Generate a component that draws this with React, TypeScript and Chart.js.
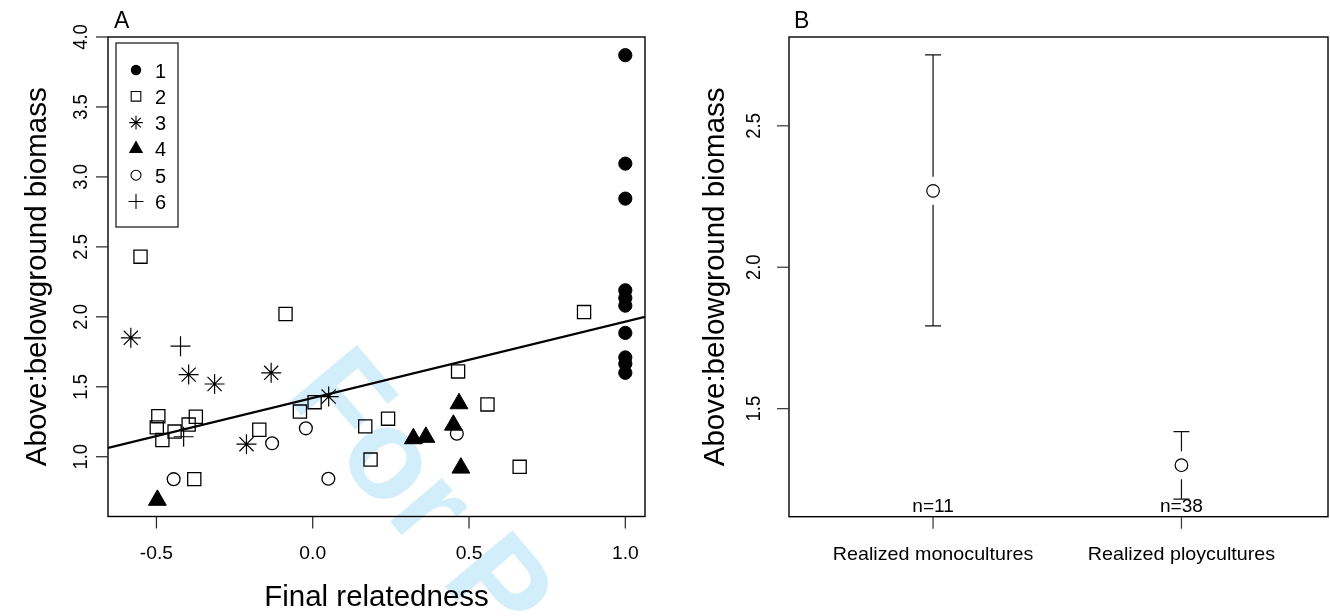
import React, { useEffect, useRef } from 'react';
import { Chart, registerables } from 'chart.js';

Chart.register(...registerables);

// ---------- Panel A data ----------
const xG1 = [1.0, 1.0, 1.0, 1.0, 1.0, 1.0, 1.0, 1.0, 1.0, 1.0];
const yG1 = [3.87, 3.095, 2.845, 2.19, 2.135, 2.08, 1.885, 1.71, 1.665, 1.6];
const xG2 = [-0.551, -0.087, -0.494, -0.499, -0.481, -0.442, -0.397, -0.374, -0.171, -0.041, 0.006, 0.168, 0.185, -0.379, 0.241, 0.465, 0.559, 0.662, 0.868];
const yG2 = [2.43, 2.02, 1.29, 1.21, 1.12, 1.18, 1.23, 1.286, 1.193, 1.323, 1.39, 1.217, 0.98, 0.84, 1.272, 1.61, 1.374, 0.928, 2.034];
const xG3 = [-0.582, -0.397, -0.314, -0.133, 0.051, -0.212];
const yG3 = [1.85, 1.587, 1.52, 1.6, 1.43, 1.09];
const xG4 = [-0.497, 0.468, 0.45, 0.322, 0.362, 0.474];
const yG4 = [0.69, 1.38, 1.227, 1.13, 1.14, 0.92];
const xG5 = [-0.445, -0.13, -0.022, 0.05, 0.461];
const yG5 = [0.84, 1.096, 1.203, 0.843, 1.165];
const xG6 = [-0.423, -0.413];
const yG6 = [1.79, 1.143];
const legendLabels = ['1', '2', '3', '4', '5', '6'];
const fitIntercept = 1.42;
const fitSlope = 0.545;
const xRangeA = [-0.655, 1.063];
const yRangeA = [0.573, 4.0];
const xTicksA = [-0.5, 0.0, 0.5, 1.0];
const yTicksA = [1.0, 1.5, 2.0, 2.5, 3.0, 3.5, 4.0];

// ---------- Panel B data ----------
const groupsB = ['Realized monocultures', 'Realized ploycultures'];
const groupPosB = [1, 2];
const meanB = [2.27, 1.3];
const upperB = [2.751, 1.419];
const lowerB = [1.793, 1.18];
const nLabelsB = ['n=11', 'n=38'];
const xRangeB = [0.42, 2.59];
const yRangeB = [1.118, 2.814];
const yTicksB = [1.5, 2.0, 2.5];

const H = 616;
const WA = 665;
const WB = 665;
const FONT = '"Liberation Sans", Arial, sans-serif';

type Kind = 'dot' | 'square' | 'star' | 'tri' | 'ring' | 'plus';

function drawMarker(ctx: CanvasRenderingContext2D, kind: Kind, x: number, y: number, r: number) {
  ctx.beginPath();
  if (kind === 'dot') {
    ctx.arc(x, y, r, 0, Math.PI * 2);
    ctx.fill();
  } else if (kind === 'ring') {
    ctx.arc(x, y, r, 0, Math.PI * 2);
    ctx.stroke();
  } else if (kind === 'square') {
    ctx.rect(x - r, y - r, 2 * r, 2 * r);
    ctx.stroke();
  } else if (kind === 'tri') {
    ctx.moveTo(x, y - r);
    ctx.lineTo(x + r * 0.866, y + r / 2);
    ctx.lineTo(x - r * 0.866, y + r / 2);
    ctx.closePath();
    ctx.fill();
  } else if (kind === 'star') {
    for (let k = 0; k < 4; k++) {
      const a = (k * Math.PI) / 4;
      ctx.moveTo(x - Math.cos(a) * r, y - Math.sin(a) * r);
      ctx.lineTo(x + Math.cos(a) * r, y + Math.sin(a) * r);
    }
    ctx.stroke();
  } else if (kind === 'plus') {
    ctx.moveTo(x - r, y);
    ctx.lineTo(x + r, y);
    ctx.moveTo(x, y - r);
    ctx.lineTo(x, y + r);
    ctx.stroke();
  }
}

// horizontal text, stretched horizontally by sx
function hText(ctx: CanvasRenderingContext2D, text: string, x: number, y: number, sx: number) {
  ctx.save();
  ctx.translate(x, y);
  ctx.scale(sx, 1);
  ctx.fillText(text, 0, 0);
  ctx.restore();
}

// vertical text reading bottom to top, glyph height stretched by sh
function vText(ctx: CanvasRenderingContext2D, text: string, x: number, y: number, sh: number) {
  ctx.save();
  ctx.translate(x, y);
  ctx.rotate(-Math.PI / 2);
  ctx.scale(1, sh);
  ctx.fillText(text, 0, 0);
  ctx.restore();
}

function pts(xs: number[], ys: number[]) {
  return xs.map((x, i) => ({ x, y: ys[i] }));
}

const panelAPlugin = {
  id: 'panelA',
  beforeDraw(chart: any) {
    const ctx = chart.ctx as CanvasRenderingContext2D;
    ctx.save();
    ctx.fillStyle = '#d3eefb';
    ctx.font = `bold 128px ${FONT}`;
    ctx.translate(284, 395);
    ctx.rotate((50 * Math.PI) / 180);
    ctx.textAlign = 'left';
    ctx.textBaseline = 'alphabetic';
    ctx.fillText('For Peer Review', 0, 0);
    ctx.restore();
  },
  afterDraw(chart: any) {
    const ctx = chart.ctx as CanvasRenderingContext2D;
    const a = chart.chartArea;
    const xs = chart.scales.x;
    const ys = chart.scales.y;
    ctx.save();
    ctx.strokeStyle = '#000';
    ctx.lineWidth = 1.4;
    ctx.strokeRect(a.left, a.top, a.right - a.left, a.bottom - a.top);
    ctx.lineWidth = 1.2;
    ctx.strokeStyle = '#222';
    ctx.fillStyle = '#000';
    ctx.textAlign = 'center';
    ctx.textBaseline = 'alphabetic';
    ctx.font = `18px ${FONT}`;
    xTicksA.forEach((v) => {
      const px = xs.getPixelForValue(v);
      ctx.beginPath();
      ctx.moveTo(px, a.bottom);
      ctx.lineTo(px, a.bottom + 12);
      ctx.stroke();
      hText(ctx, v.toFixed(1), px, 559, 1.07);
    });
    ctx.font = `18.5px ${FONT}`;
    yTicksA.forEach((v) => {
      const py = ys.getPixelForValue(v);
      ctx.beginPath();
      ctx.moveTo(a.left, py);
      ctx.lineTo(a.left - 12, py);
      ctx.stroke();
      vText(ctx, v.toFixed(1), 87, py, 1.13);
    });
    // axis titles
    ctx.font = `29.5px ${FONT}`;
    ctx.fillText('Final relatedness', (a.left + a.right) / 2, 606);
    vText(ctx, 'Above:belowground biomass', 46, (a.top + a.bottom) / 2, 1);
    // panel letter
    ctx.font = `23px ${FONT}`;
    ctx.textAlign = 'left';
    ctx.fillText('A', 114, 28);
    // legend
    ctx.lineWidth = 1.3;
    ctx.strokeStyle = '#222';
    ctx.strokeRect(116, 43, 62, 184);
    const kinds: Kind[] = ['dot', 'square', 'star', 'tri', 'ring', 'plus'];
    const sizes = [5.2, 4.8, 6.8, 8.3, 5.0, 7.5];
    ctx.font = `20px ${FONT}`;
    legendLabels.forEach((lab, i) => {
      const cy = 70 + i * 26.3;
      ctx.fillStyle = '#000';
      ctx.strokeStyle = '#000';
      ctx.lineWidth = 1.1;
      drawMarker(ctx, kinds[i], 136, cy, sizes[i]);
      ctx.fillText(lab, 155, cy + 7.5);
    });
    ctx.restore();
  },
};

const panelBPlugin = {
  id: 'panelB',
  afterDatasetsDraw(chart: any) {
    const ctx = chart.ctx as CanvasRenderingContext2D;
    const xs = chart.scales.x;
    const ys = chart.scales.y;
    ctx.save();
    ctx.strokeStyle = '#111';
    ctx.lineWidth = 1.2;
    const gap = 14;
    const cap = 8;
    groupPosB.forEach((g, i) => {
      const px = xs.getPixelForValue(g);
      const pm = ys.getPixelForValue(meanB[i]);
      const pu = ys.getPixelForValue(upperB[i]);
      const pl = ys.getPixelForValue(lowerB[i]);
      ctx.beginPath();
      if (pm - gap > pu) {
        ctx.moveTo(px, pu);
        ctx.lineTo(px, pm - gap);
      }
      if (pl > pm + gap) {
        ctx.moveTo(px, pm + gap);
        ctx.lineTo(px, pl);
      }
      ctx.moveTo(px - cap, pu);
      ctx.lineTo(px + cap, pu);
      ctx.moveTo(px - cap, pl);
      ctx.lineTo(px + cap, pl);
      ctx.stroke();
    });
    ctx.restore();
  },
  afterDraw(chart: any) {
    const ctx = chart.ctx as CanvasRenderingContext2D;
    const a = chart.chartArea;
    const xs = chart.scales.x;
    const ys = chart.scales.y;
    ctx.save();
    ctx.strokeStyle = '#000';
    ctx.lineWidth = 1.4;
    ctx.strokeRect(a.left, a.top, a.right - a.left, a.bottom - a.top);
    ctx.fillStyle = '#000';
    ctx.textAlign = 'center';
    ctx.textBaseline = 'alphabetic';
    ctx.strokeStyle = '#333';
    ctx.lineWidth = 1.2;
    groupPosB.forEach((g, i) => {
      const px = xs.getPixelForValue(g);
      ctx.beginPath();
      ctx.moveTo(px, a.bottom);
      ctx.lineTo(px, a.bottom + 12);
      ctx.stroke();
      ctx.font = `18px ${FONT}`;
      hText(ctx, nLabelsB[i], px, 512, 1.06);
      ctx.font = `18.6px ${FONT}`;
      hText(ctx, groupsB[i], px, 560, 1.06);
    });
    ctx.font = `18.5px ${FONT}`;
    yTicksB.forEach((v) => {
      const py = ys.getPixelForValue(v);
      ctx.beginPath();
      ctx.moveTo(a.left, py);
      ctx.lineTo(a.left - 12, py);
      ctx.stroke();
      vText(ctx, v.toFixed(1), 760 - 665, py, 1.13);
    });
    ctx.font = `29.5px ${FONT}`;
    vText(ctx, 'Above:belowground biomass', 724 - 665, (a.top + a.bottom) / 2, 1);
    ctx.font = `23px ${FONT}`;
    ctx.textAlign = 'left';
    ctx.fillText('B', 794 - 665, 28);
    ctx.restore();
  },
};

function PanelA() {
  const ref = useRef<HTMLCanvasElement | null>(null);
  useEffect(() => {
    if (!ref.current) return;
    const f = (x: number) => fitIntercept + fitSlope * x;
    const base = { showLine: false, borderColor: '#000', borderWidth: 1.3 };
    const chart = new Chart(ref.current, {
      type: 'scatter',
      data: {
        datasets: [
          {
            type: 'line',
            label: 'fit',
            data: [
              { x: xRangeA[0], y: f(xRangeA[0]) },
              { x: xRangeA[1], y: f(xRangeA[1]) },
            ],
            borderColor: '#000',
            borderWidth: 2.2,
            pointRadius: 0,
            fill: false,
          } as any,
          { ...base, label: '1', data: pts(xG1, yG1), pointStyle: 'circle', pointRadius: 6.6, backgroundColor: '#000', borderWidth: 1 },
          { ...base, label: '2', data: pts(xG2, yG2), pointStyle: 'rect', pointRadius: 9.3, backgroundColor: 'rgba(0,0,0,0)' },
          { ...base, label: '3', data: pts(xG3, yG3), pointStyle: 'star', pointRadius: 10, backgroundColor: 'rgba(0,0,0,0)', borderWidth: 1.2 },
          { ...base, label: '4', data: pts(xG4, yG4), pointStyle: 'triangle', pointRadius: 10.3, backgroundColor: '#000', borderWidth: 1 },
          { ...base, label: '5', data: pts(xG5, yG5), pointStyle: 'circle', pointRadius: 6.4, backgroundColor: 'rgba(0,0,0,0)' },
          { ...base, label: '6', data: pts(xG6, yG6), pointStyle: 'cross', pointRadius: 10, backgroundColor: 'rgba(0,0,0,0)', borderWidth: 1.2 },
        ],
      },
      options: {
        animation: false,
        responsive: false,
        events: [],
        layout: { autoPadding: false, padding: { left: 108, right: WA - 645, top: 37, bottom: H - 516.5 } },
        plugins: { legend: { display: false }, tooltip: { enabled: false } },
        scales: {
          x: { type: 'linear', display: false, min: xRangeA[0], max: xRangeA[1] },
          y: { type: 'linear', display: false, min: yRangeA[0], max: yRangeA[1] },
        },
      },
      plugins: [panelAPlugin],
    });
    return () => chart.destroy();
  }, []);
  return <canvas ref={ref} width={WA} height={H} style={{ position: 'absolute', left: 0, top: 0, width: WA, height: H }} />;
}

function PanelB() {
  const ref = useRef<HTMLCanvasElement | null>(null);
  useEffect(() => {
    if (!ref.current) return;
    const chart = new Chart(ref.current, {
      type: 'scatter',
      data: {
        datasets: [
          {
            label: 'mean',
            data: groupPosB.map((g, i) => ({ x: g, y: meanB[i] })),
            pointStyle: 'circle',
            pointRadius: 6.3,
            backgroundColor: '#fff',
            borderColor: '#000',
            borderWidth: 1.2,
          },
        ],
      },
      options: {
        animation: false,
        responsive: false,
        events: [],
        layout: { autoPadding: false, padding: { left: 789 - 665, right: 665 + WB - 1328, top: 37, bottom: H - 516.7 } },
        plugins: { legend: { display: false }, tooltip: { enabled: false } },
        scales: {
          x: { type: 'linear', display: false, min: xRangeB[0], max: xRangeB[1] },
          y: { type: 'linear', display: false, min: yRangeB[0], max: yRangeB[1] },
        },
      },
      plugins: [panelBPlugin],
    });
    return () => chart.destroy();
  }, []);
  return <canvas ref={ref} width={WB} height={H} style={{ position: 'absolute', left: WA, top: 0, width: WB, height: H }} />;
}

export default function App() {
  return (
    <div style={{ position: 'absolute', left: 0, top: 0, width: 1330, height: H, background: '#fff', overflow: 'hidden' }}>
      <PanelA />
      <PanelB />
    </div>
  );
}
